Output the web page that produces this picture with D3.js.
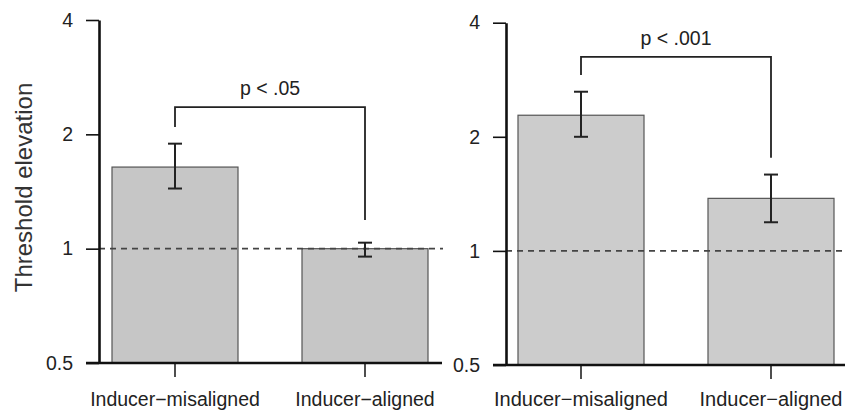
<!DOCTYPE html>
<html>
<head>
<meta charset="utf-8">
<script src="https://cdn.jsdelivr.net/npm/d3@7"></script>
<style>
  body { margin: 0; background: #fff; }
  svg { display: block; font-family: 'Liberation Sans', Arial, Helvetica, sans-serif; }
</style>
</head>
<body>
<div id="chart"></div>
<script>
// values (log2 y axis)
const categories = ['Inducer\u2212misaligned', 'Inducer\u2212aligned']
const yTicks = [0.5, 1, 2, 4]

const leftMeans = [1.64, 1.0]
const leftLow = [1.44, 0.953]
const leftHigh = [1.89, 1.037]
const leftP = 'p < .05'
const leftBracket = { top: 2.36, legs: [2.09, 1.19] }

const rightMeans = [2.28, 1.376]
const rightLow = [2.0, 1.19]
const rightHigh = [2.63, 1.59]
const rightP = 'p < .001'
const rightBracket = { top: 3.25, legs: [2.91, 1.76] }

const WIDTH = 845
const HEIGHT = 412

const svg = d3.select('#chart').append('svg')
    .attr('width', WIDTH)
    .attr('height', HEIGHT)

function drawPanel(opts) {
    const g = svg.append('g')

    const x = d3.scaleBand()
        .domain(categories)
        .range(opts.xRange)
        .paddingInner(64 / 190)
        .paddingOuter(32 / 190)

    const y = d3.scaleLog().base(2)
        .domain([0.5, 4])
        .range(opts.yRange)

    const rows = categories.map((c, i) => ({
        cat: c, mean: opts.means[i], lo: opts.low[i], hi: opts.high[i],
    }))

    // bars
    g.selectAll('rect.bar')
        .data(rows)
        .join('rect')
        .attr('class', 'bar')
        .attr('x', d => x(d.cat))
        .attr('width', x.bandwidth())
        .attr('y', d => y(d.mean))
        .attr('height', d => y(0.5) - y(d.mean))
        .attr('fill', opts.fill)
        .attr('stroke', '#555')
        .attr('stroke-width', 1.2)

    // reference line at 1
    g.append('line')
        .attr('x1', opts.axisX)
        .attr('x2', opts.dashEnd)
        .attr('y1', y(1))
        .attr('y2', y(1))
        .attr('stroke', '#444')
        .attr('stroke-width', 1.6)
        .attr('stroke-dasharray', '6,5')

    // error bars
    const cx = d => x(d.cat) + x.bandwidth() / 2
    const err = g.selectAll('g.err')
        .data(rows)
        .join('g')
        .attr('class', 'err')
        .attr('stroke', '#222')
        .attr('stroke-width', 2)
    err.append('line')
        .attr('x1', cx).attr('x2', cx)
        .attr('y1', d => y(d.lo)).attr('y2', d => y(d.hi))
    err.append('line')
        .attr('x1', d => cx(d) - 7).attr('x2', d => cx(d) + 7)
        .attr('y1', d => y(d.hi)).attr('y2', d => y(d.hi))
    err.append('line')
        .attr('x1', d => cx(d) - 7).attr('x2', d => cx(d) + 7)
        .attr('y1', d => y(d.lo)).attr('y2', d => y(d.lo))

    // significance bracket
    const bx = categories.map(c => x(c) + x.bandwidth() / 2)
    const b = opts.bracket
    g.append('path')
        .attr('d', `M${bx[0]},${y(b.legs[0])}V${y(b.top)}H${bx[1]}V${y(b.legs[1])}`)
        .attr('fill', 'none')
        .attr('stroke', '#222')
        .attr('stroke-width', 1.8)
    g.append('text')
        .attr('x', (bx[0] + bx[1]) / 2)
        .attr('y', y(b.top) - 12)
        .attr('text-anchor', 'middle')
        .attr('font-size', 19.5)
        .attr('fill', '#222')
        .text(opts.pText)

    // y axis
    const yAxis = g.append('g')
        .attr('transform', `translate(${opts.axisX},0)`)
        .call(d3.axisLeft(y)
            .tickValues(yTicks)
            .tickFormat(d => d)
            .tickSize(13)
            .tickSizeOuter(0)
            .tickPadding(13))
    yAxis.select('.domain').attr('stroke', '#111').attr('stroke-width', 2.6)
    yAxis.selectAll('.tick line').attr('stroke', '#111').attr('stroke-width', 1.6)
    yAxis.selectAll('.tick text')
        .attr('font-size', 19.5)
        .attr('font-family', null)
        .attr('fill', '#222')

    // x axis
    const xAxis = g.append('g')
        .attr('transform', `translate(0,${y(0.5)})`)
        .call(d3.axisBottom(x)
            .tickSize(14)
            .tickSizeOuter(0))
    xAxis.select('.domain').remove()
    xAxis.selectAll('.tick line').attr('stroke', '#222').attr('stroke-width', 1.6)
    xAxis.selectAll('.tick text')
        .attr('y', 406 - y(0.5))
        .attr('dy', 0)
        .attr('font-size', opts.labelSize)
        .attr('font-family', null)
        .attr('fill', '#222')
    g.append('line')
        .attr('x1', opts.axisX - 13)
        .attr('x2', opts.lineEnd)
        .attr('y1', y(0.5))
        .attr('y2', y(0.5))
        .attr('stroke', '#111')
        .attr('stroke-width', 2.6)

    return { x, y }
}

const leftPanel = drawPanel({
    xRange: [80, 460], yRange: [363, 20], axisX: 99, lineEnd: 442, dashEnd: 443,
    means: leftMeans, low: leftLow, high: leftHigh,
    bracket: leftBracket, pText: leftP, fill: '#c6c6c6', labelSize: 19.5,
})

drawPanel({
    xRange: [486, 866], yRange: [365, 22.7], axisX: 506, lineEnd: 845, dashEnd: 845,
    means: rightMeans, low: rightLow, high: rightHigh,
    bracket: rightBracket, pText: rightP, fill: '#cccccc', labelSize: 20,
})

svg.append('text')
    .attr('transform', `translate(32,${(leftPanel.y(0.5) + leftPanel.y(4)) / 2 - 4}) rotate(-90)`)
    .attr('text-anchor', 'middle')
    .attr('font-size', 24)
    .attr('fill', '#333')
    .text('Threshold elevation')
</script>
</body>
</html>
